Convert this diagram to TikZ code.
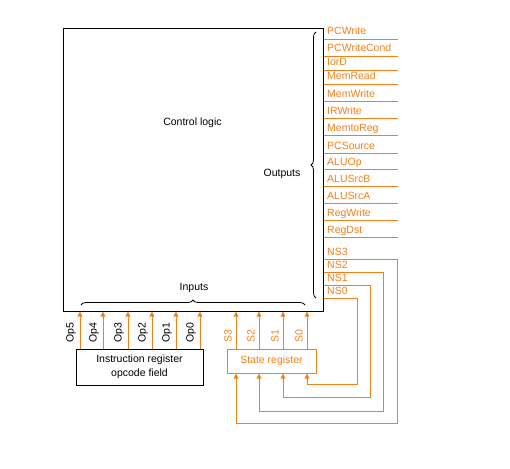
\documentclass[tikz,border=0pt]{standalone}
\usepackage{fontspec}
\setmainfont{Liberation Sans}
\usetikzlibrary{arrows.meta,decorations.pathreplacing,calc}
\definecolor{sigorange}{RGB}{240,128,24}
\tikzset{
  lbl/.style={font=\fontsize{10.5}{13.5}\selectfont, inner sep=0pt},
  olbl/.style={lbl, text=sigorange, anchor=base west},
  vlbl/.style={lbl, rotate=90, anchor=west},
  sig/.style={draw=sigorange, line width=0.9pt},
  sigarrow/.style={sig, -{Triangle[length=5pt,width=4.5pt]}},
  box/.style={draw, line width=1pt, inner sep=0pt},
  bracel/.style={decorate, decoration={brace, amplitude=5pt}, line width=0.8pt},
}

\begin{document}
\begin{tikzpicture}[x=1pt,y=-1pt]
\useasboundingbox (0,0) rectangle (510,468);
% control logic block
\node[box, minimum width=260pt, minimum height=282pt] (ctrl) at (193,170) {};
\node[lbl] (ctrltxt) at (192.5,123) {Control logic};
\draw[bracel] (316,298) -- (316,32);
\node[lbl] (outtxt) at (282,174) {Outputs};
\draw[bracel] (81,305) -- (305,305);
\node[lbl] (intxt) at (194,288) {Inputs};

% control outputs
\foreach \y/\l in {39/PCWrite,56/PCWriteCond,70/IorD,84/MemRead,101/MemWrite,118/IRWrite,135/MemtoReg,153/PCSource,169/ALUOp,186/ALUSrcB,203/ALUSrcA,220/RegWrite,237/RegDst} {
  \draw[sig] (ctrl.east |- 0,\y) -- ++(74,0);
  \node[olbl] (out\y) at (327,\y-4) {\l};
}

% registers
\node[box, align=center, lbl, minimum width=127pt, minimum height=36pt] (ireg) at (139.5,367) {Instruction register\\opcode field};
\node[box, lbl, draw=sigorange, text=sigorange, minimum width=89pt, minimum height=24pt] (sreg) at (271.5,361) {State register};

% opcode inputs
\foreach \x/\n in {80/5,103/4,128/3,152/2,176/1,200/0} {
  \draw[sigarrow] (\x,0 |- ireg.north) -- (\x,0 |- ctrl.south);
  \node[vlbl] (op\n) at (\x-9,343) {Op\n};
}

% state inputs
\foreach \x/\n in {236/3,259/2,283/1,307/0} {
  \draw[sigarrow] (\x,0 |- sreg.north) -- (\x,0 |- ctrl.south);
  \node[vlbl, text=sigorange] (s\n) at (\x-8,343) {S\n};
}

% next state feedback
\foreach \y/\r/\b/\x/\n in {259/397/423/236/3, 272/383/411/259/2, 285/370/397/283/1, 298/357/384/307/0} {
  \draw[sigarrow] (ctrl.east |- 0,\y) -- (\r,\y) -- (\r,\b) -- (\x,\b) -- (\x,0 |- sreg.south);
  \node[olbl] (ns\n) at (327,\y-4) {NS\n};
}
\end{tikzpicture}
\end{document}
